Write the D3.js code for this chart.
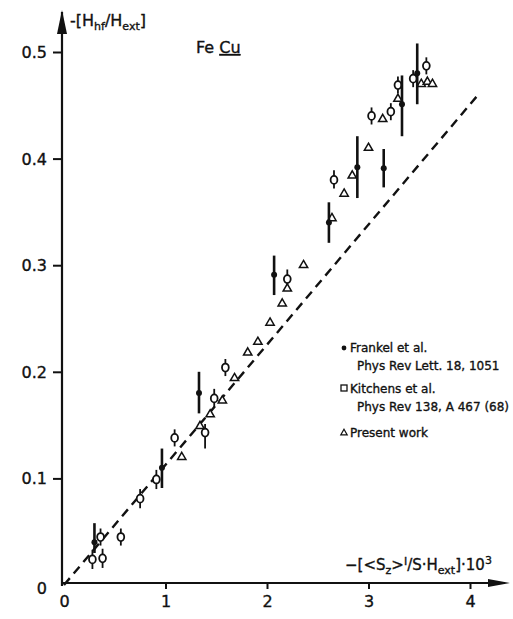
<!DOCTYPE html>
<html>
<head>
<meta charset="utf-8">
<script src="https://cdn.jsdelivr.net/npm/d3@7"></script>
<style>
  html, body { margin: 0; padding: 0; background: #fff; }
  svg { display: block; }
  text { font-family: "DejaVu Sans", "Liberation Sans", sans-serif; fill: #111; stroke: #111; stroke-width: 0.35px; }
</style>
</head>
<body>
<svg id="chart" width="513" height="619"></svg>
<script>
// Hyperfine field ratio vs. reduced spin polarisation for Fe in Cu

// Frankel et al. (filled dots with error bars): x, y, lower, upper
const frankelX  = [0.30, 0.965, 1.33, 2.07, 2.61, 2.89, 3.15, 3.33, 3.48];
const frankelY  = [0.040, 0.110, 0.180, 0.291, 0.340, 0.392, 0.391, 0.451, 0.480];
const frankelLo = [0.030, 0.091, 0.161, 0.272, 0.321, 0.363, 0.373, 0.421, 0.451];
const frankelHi = [0.058, 0.128, 0.200, 0.309, 0.359, 0.421, 0.409, 0.478, 0.508];

// Kitchens et al. (open circles with short error bars)
const kitchensX  = [0.28, 0.36, 0.38, 0.56, 0.75, 0.91, 1.09, 1.39, 1.48, 1.59, 2.20, 2.66, 3.03, 3.22, 3.29, 3.44, 3.57];
const kitchensY  = [0.024, 0.045, 0.025, 0.045, 0.081, 0.099, 0.138, 0.143, 0.175, 0.204, 0.287, 0.380, 0.440, 0.444, 0.469, 0.475, 0.487];
const kitchensLo = [0.015, 0.037, 0.016, 0.037, 0.072, 0.090, 0.130, 0.128, 0.167, 0.196, 0.279, 0.372, 0.432, 0.436, 0.461, 0.467, 0.479];
const kitchensHi = [0.033, 0.053, 0.034, 0.053, 0.090, 0.108, 0.146, 0.151, 0.184, 0.212, 0.296, 0.389, 0.448, 0.452, 0.477, 0.483, 0.495];

// Present work (open triangles)
const presentX = [1.16, 1.34, 1.44, 1.56, 1.68, 1.81, 1.91, 2.03, 2.15, 2.20, 2.36, 2.64, 2.76, 2.84, 3.00, 3.14, 3.29, 3.52, 3.58, 3.63];
const presentY = [0.120, 0.149, 0.160, 0.173, 0.194, 0.218, 0.228, 0.246, 0.264, 0.278, 0.300, 0.344, 0.367, 0.384, 0.410, 0.437, 0.456, 0.470, 0.472, 0.470];

// Dashed reference line: end points
const lineX = [0, 4.09];
const lineY = [0, 0.461];

const xTicks = [0, 1, 2, 3, 4];
const yTicks = [0, 0.1, 0.2, 0.3, 0.4, 0.5];

const legendLines = [
  { mark: "dot",      text: "Frankel et al." },
  { mark: null,       text: "Phys Rev Lett. 18, 1051" },
  { mark: "circle",   text: "Kitchens et al." },
  { mark: null,       text: "Phys Rev  138, A 467 (68)" },
  { mark: "triangle", text: "Present  work" }
];

const svg = d3.select("#chart");
const x = d3.scaleLinear().domain([0, 4]).range([64, 470]);
const y = d3.scaleLinear().domain([0, 0.5]).range([585, 52]);

const ink = "#111";

// Y axis
const yAxis = d3.axisLeft(y).tickValues(yTicks).tickSize(9).tickPadding(8)
  .tickFormat(d => d === 0 ? "0" : d3.format(".1f")(d));
const gy = svg.append("g").attr("transform", `translate(${x(0) - 2},0)`).call(yAxis);
gy.select(".domain").remove();
gy.selectAll(".tick line").attr("stroke", ink).attr("stroke-width", 2)
  .attr("opacity", d => d === 0 ? 0 : 1);
gy.selectAll(".tick text").attr("font-size", 16).attr("x", -15)
  .attr("dy", d => d === 0 ? "0.55em" : "0.34em");
svg.append("line").attr("x1", x(0) - 2).attr("x2", x(0) - 2)
  .attr("y1", y(0) + 1).attr("y2", 12)
  .attr("stroke", ink).attr("stroke-width", 2.2);
svg.append("path").attr("d", `M${x(0) - 7},34 L${x(0) - 2},10 L${x(0) + 3},34 Z`).attr("fill", ink);

// X axis
const xAxis = d3.axisBottom(x).tickValues(xTicks).tickSize(6).tickPadding(7)
  .tickFormat(d3.format("d"));
const gx = svg.append("g").attr("transform", `translate(0,${y(0) - 2})`).call(xAxis);
gx.select(".domain").remove();
gx.selectAll(".tick line").attr("stroke", ink).attr("stroke-width", 2)
  .attr("opacity", d => d === 0 ? 0 : 1);
gx.selectAll(".tick text").attr("font-size", 16);
svg.append("line").attr("x1", x(0) - 3).attr("x2", 505)
  .attr("y1", y(0) - 2).attr("y2", y(0) - 2)
  .attr("stroke", ink).attr("stroke-width", 2.2);
svg.append("path").attr("d", `M488,${y(0) - 6} L510,${y(0) - 2} L488,${y(0) + 2} Z`).attr("fill", ink);

// Dashed proportionality line
svg.append("line")
  .attr("x1", x(lineX[0])).attr("y1", y(lineY[0]))
  .attr("x2", x(lineX[1])).attr("y2", y(lineY[1]))
  .attr("stroke", ink).attr("stroke-width", 2.4).attr("stroke-dasharray", "9,6");

// Kitchens: circles with short bars
const kitchens = kitchensX.map((v, i) => ({ x: v, y: kitchensY[i], lo: kitchensLo[i], hi: kitchensHi[i] }));
const gk = svg.append("g");
gk.selectAll("line.err").data(kitchens).join("line").attr("class", "err")
  .attr("x1", d => x(d.x)).attr("x2", d => x(d.x))
  .attr("y1", d => y(d.lo)).attr("y2", d => y(d.hi))
  .attr("stroke", ink).attr("stroke-width", 1.8);
gk.selectAll("ellipse").data(kitchens).join("ellipse")
  .attr("cx", d => x(d.x)).attr("cy", d => y(d.y)).attr("rx", 3.4).attr("ry", 4)
  .attr("fill", "#fff").attr("stroke", ink).attr("stroke-width", 1.8);

// Present work: triangles
const tri = d3.symbol().type(d3.symbolTriangle).size(30);
svg.append("g").selectAll("path").data(presentX.map((v, i) => ({ x: v, y: presentY[i] }))).join("path")
  .attr("d", tri)
  .attr("transform", d => `translate(${x(d.x)},${y(d.y)})`)
  .attr("fill", "#fff").attr("stroke", ink).attr("stroke-width", 1.5);

// Frankel: filled dots with bars
const frankel = frankelX.map((v, i) => ({ x: v, y: frankelY[i], lo: frankelLo[i], hi: frankelHi[i] }));
const gf = svg.append("g");
gf.selectAll("line").data(frankel).join("line")
  .attr("x1", d => x(d.x)).attr("x2", d => x(d.x))
  .attr("y1", d => y(d.lo)).attr("y2", d => y(d.hi))
  .attr("stroke", ink).attr("stroke-width", 2.6);
gf.selectAll("circle").data(frankel).join("circle")
  .attr("cx", d => x(d.x)).attr("cy", d => y(d.y)).attr("r", 3)
  .attr("fill", ink);

// Axis titles
const yt = svg.append("text").attr("x", 70).attr("y", 26).attr("font-size", 16);
yt.append("tspan").text("-[H");
yt.append("tspan").attr("font-size", 11).attr("dy", 4).text("hf");
yt.append("tspan").attr("dy", -4).text("/H");
yt.append("tspan").attr("font-size", 11).attr("dy", 4).text("ext");
yt.append("tspan").attr("dy", -4).text("]");

const xt = svg.append("text").attr("x", 345).attr("y", 570).attr("font-size", 15);
xt.append("tspan").text("−[<S");
xt.append("tspan").attr("font-size", 11).attr("dy", 4).text("z");
xt.append("tspan").attr("dy", -4).text(">");
xt.append("tspan").attr("font-size", 11).attr("dy", -5).text("I");
xt.append("tspan").attr("dy", 5).text("/S·H");
xt.append("tspan").attr("font-size", 11).attr("dy", 4).text("ext");
xt.append("tspan").attr("dy", -4).text("]·10");
xt.append("tspan").attr("font-size", 11).attr("dy", -6).text("3");

// Sample label
const fe = svg.append("text").attr("x", 196).attr("y", 53).attr("font-size", 16);
fe.append("tspan").text("Fe ");
fe.append("tspan").attr("text-decoration", "underline").text("Cu");

// Legend
const lg = svg.append("g").attr("transform", "translate(340,0)");
const legendYs = [352, 370, 393, 411, 437];
legendLines.forEach((l, i) => {
  const ly = legendYs[i];
  lg.append("text").attr("x", l.mark ? 10 : 17).attr("y", ly).attr("font-size", 12).text(l.text);
  if (l.mark === "dot") {
    lg.append("circle").attr("cx", 4).attr("cy", ly - 4).attr("r", 2.4).attr("fill", ink);
  } else if (l.mark === "circle") {
    lg.append("rect").attr("x", 1).attr("y", ly - 8).attr("width", 6).attr("height", 6)
      .attr("fill", "#fff").attr("stroke", ink).attr("stroke-width", 1.3);
  } else if (l.mark === "triangle") {
    lg.append("path").attr("d", d3.symbol().type(d3.symbolTriangle).size(18))
      .attr("transform", `translate(4,${ly - 4})`)
      .attr("fill", "#fff").attr("stroke", ink).attr("stroke-width", 1.2);
  }
});
</script>
</body>
</html>
